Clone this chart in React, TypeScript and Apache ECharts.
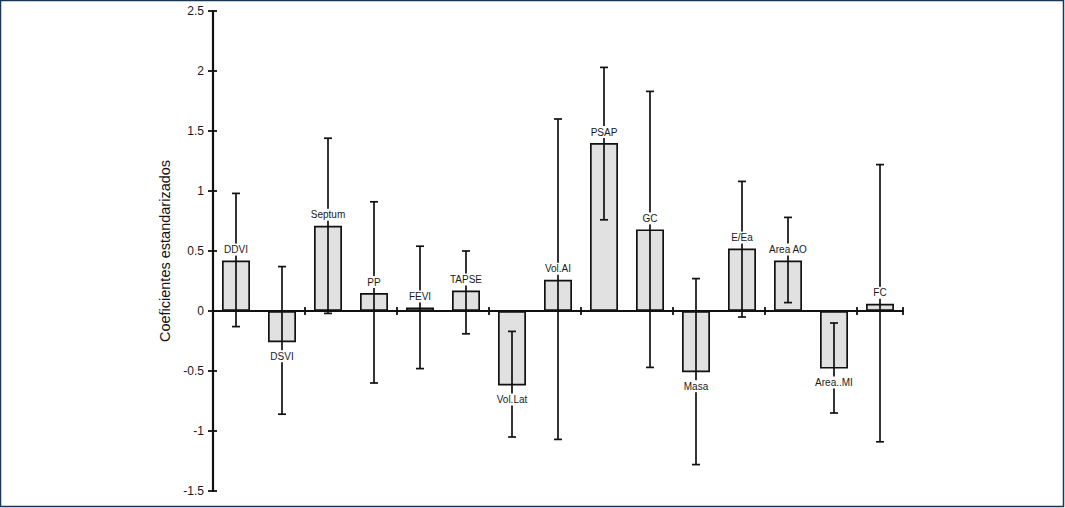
import React, { useEffect, useRef } from "react";
import * as echarts from "echarts";

const categories = ["DDVI", "DSVI", "Septum", "PP", "FEVI", "TAPSE", "Vol.Lat", "Vol.AI", "PSAP", "GC", "Masa", "E/Ea", "Area AO", "Area..MI", "FC"];
const coefs = [0.42, -0.26, 0.71, 0.15, 0.03, 0.17, -0.62, 0.26, 1.4, 0.68, -0.51, 0.52, 0.42, -0.48, 0.06];
const ciUpper = [0.98, 0.37, 1.44, 0.91, 0.54, 0.5, -0.17, 1.6, 2.03, 1.83, 0.27, 1.08, 0.78, -0.1, 1.22];
const ciLower = [-0.13, -0.86, -0.02, -0.6, -0.48, -0.19, -1.05, -1.07, 0.76, -0.47, -1.28, -0.05, 0.07, -0.85, -1.09];
const yMin = -1.5;
const yMax = 2.5;
const yStep = 0.5;

export default function App() {
  const ref = useRef<HTMLDivElement>(null);
  useEffect(() => {
    if (!ref.current) return;
    const chart = echarts.init(ref.current, null, { renderer: "svg" });
    const errData = categories.map((_, i) => [i, ciLower[i], ciUpper[i], coefs[i]]);
    const axisLine = { show: true, onZero: true, lineStyle: { color: "#111", width: 2.2 } };
    const tickStyle = { color: "#111", width: 1.8 };
    const option: any = {
      animation: false,
      backgroundColor: "#fff",
      grid: { left: 213, right: 162, top: 11, bottom: 17, containLabel: false },
      xAxis: [
        {
          type: "category",
          data: categories,
          axisLine,
          axisTick: { show: true, length: 4, lineStyle: tickStyle },
          axisLabel: { show: false },
          splitLine: { show: false },
        },
        {
          type: "category",
          data: categories,
          position: "bottom",
          axisLine,
          axisTick: { show: true, inside: true, length: 4, lineStyle: tickStyle },
          axisLabel: { show: false },
          splitLine: { show: false },
        },
      ],
      yAxis: [
        {
          type: "value",
          min: yMin,
          max: yMax,
          interval: yStep,
          position: "left",
          name: "Coeficientes estandarizados",
          nameLocation: "middle",
          nameGap: 31,
          nameTextStyle: { fontFamily: "Liberation Sans", fontSize: 14.5, color: "#111" },
          axisLine: { show: true, onZero: false, lineStyle: { color: "#111", width: 2.2 } },
          axisTick: { show: true, length: 5, lineStyle: tickStyle },
          axisLabel: { fontFamily: "Liberation Sans", fontSize: 12, color: "#1a1a1a", margin: 9 },
          splitLine: { show: false },
        },
        {
          type: "value",
          min: yMin,
          max: yMax,
          interval: yStep,
          position: "left",
          axisLine: { show: false, onZero: false },
          axisTick: { show: true, inside: true, length: 4, lineStyle: tickStyle },
          axisLabel: { show: false },
          splitLine: { show: false },
        },
      ],
      series: [
        {
          type: "bar",
          data: coefs,
          barWidth: 28,
          itemStyle: { color: "#e1e1e1", borderColor: "#111", borderWidth: 1.7 },
          z: 2,
        },
        {
          type: "custom",
          data: errData,
          encode: { x: 0, y: [1, 2] },
          z: 3,
          renderItem: (params: any, api: any) => {
            const i = api.value(0);
            const lo = api.coord([i, api.value(1)]);
            const hi = api.coord([i, api.value(2)]);
            const c = api.value(3);
            const bar = api.coord([i, c]);
            const half = 4;
            const ls = { stroke: "#111", lineWidth: 1.7 };
            const name = categories[i];
            const pos = c >= 0;
            return {
              type: "group",
              children: [
                { type: "line", shape: { x1: hi[0], y1: hi[1], x2: lo[0], y2: lo[1] }, style: ls },
                { type: "line", shape: { x1: hi[0] - half, y1: hi[1], x2: hi[0] + half, y2: hi[1] }, style: ls },
                { type: "line", shape: { x1: lo[0] - half, y1: lo[1], x2: lo[0] + half, y2: lo[1] }, style: ls },
                {
                  type: "text",
                  z2: 10,
                  x: bar[0],
                  y: pos ? bar[1] - 5 : bar[1] + 8,
                  style: {
                    text: name,
                    fill: "#1a1a1a",
                    font: "10px 'Liberation Sans'",
                    align: "center",
                    verticalAlign: pos ? "bottom" : "top",
                    backgroundColor: "#fff",
                    padding: [1, 1, 1, 1],
                  },
                },
              ],
            };
          },
        },
      ],
      graphic: [
        {
          type: "rect",
          shape: { x: 0.5, y: 0.5, width: 1063, height: 506 },
          style: { fill: "none", stroke: "#17375a", lineWidth: 1.5 },
          silent: true,
          z: 100,
        },
      ],
    };
    chart.setOption(option);
    return () => chart.dispose();
  }, []);
  return <div ref={ref} style={{ position: "fixed", left: 0, top: 0, width: 1065, height: 508 }} />;
}
